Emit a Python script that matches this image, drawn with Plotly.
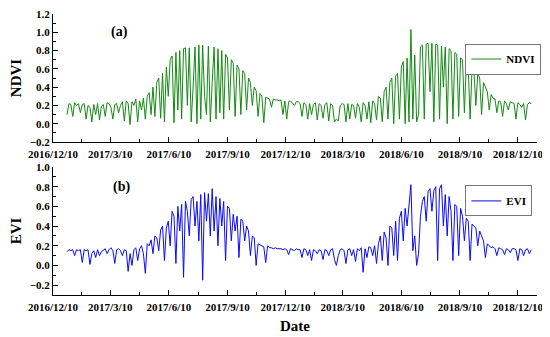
import pandas as pd
import plotly.graph_objects as go

# ---- data (3-day samples, 2017-01-01 .. 2018-12-31) ----
ndvi_2017 = [
    0.10, 0.22, 0.21, 0.08, 0.23, 0.20, 0.22, 0.12, 0.21, 0.22,          # Jan
    0.05, 0.20, 0.18, 0.02, 0.21, 0.10, 0.22, 0.04, 0.19, 0.21,          # Feb
    0.08, 0.23, 0.22, 0.18, 0.05, 0.21, 0.22, 0.12, 0.20, 0.24, 0.03,    # Mar
    0.25, 0.22, -0.01, 0.24, 0.20, 0.27, 0.02, 0.25, 0.15, 0.28,         # Apr
    0.05, 0.30, 0.34, 0.10, 0.40, 0.08, 0.45, 0.50, 0.06, 0.55,          # May
    0.02, 0.62, 0.30, 0.70, 0.74, 0.01, 0.78, 0.15, 0.80, 0.05,          # Jun
    0.82, 0.83, 0.20, 0.83, 0.02, 0.40, 0.84, 0.00, 0.86, 0.05,          # Jul
    0.86, 0.30, 0.10, 0.85, 0.02, 0.45, 0.84, 0.05, 0.82, 0.12, 0.80,    # Aug
    0.05, 0.76, 0.72, 0.15, 0.70, 0.66, 0.08, 0.64, 0.60, 0.10,          # Sep
    0.58, 0.55, 0.15, 0.50, 0.45, 0.20, 0.40, 0.36, 0.08, 0.33,          # Oct
    0.30, 0.01, 0.29, 0.28, 0.27, 0.18, 0.27, 0.26, 0.26, 0.25,          # Nov
    0.26, 0.10, 0.25, 0.05, 0.24, 0.25, 0.23, 0.20, 0.24, 0.24,          # Dec
]
ndvi_2018 = [
    0.22, 0.08, 0.23, 0.21, 0.05, 0.22, 0.10, 0.21, 0.23, 0.04,          # Jan
    0.22, 0.20, 0.06, 0.21, 0.23, 0.03, 0.22, 0.20, 0.02, 0.05,          # Feb
    0.03, 0.20, 0.22, 0.21, 0.02, 0.22, 0.05, 0.21, 0.20, 0.06, 0.22,    # Mar
    0.18, 0.02, 0.23, 0.20, 0.05, 0.24, 0.01, 0.25, 0.22, 0.04,          # Apr
    0.30, 0.28, 0.02, 0.35, 0.40, 0.05, 0.45, 0.50, 0.00, 0.52,          # May
    0.55, 0.05, 0.62, 0.68, 0.00, 0.72, 0.02, 1.03, 0.05, 0.75,          # Jun
    0.02, 0.10, 0.84, 0.86, 0.05, 0.87, 0.88, 0.35, 0.88, 0.02,          # Jul
    0.87, 0.86, 0.05, 0.85, 0.40, 0.84, 0.00, 0.82, 0.80, 0.05, 0.78,    # Aug
    0.76, 0.08, 0.72, 0.70, 0.12, 0.66, 0.62, 0.05, 0.60, 0.58,          # Sep
    0.20, 0.55, 0.50, 0.10, 0.45, 0.40, 0.35, 0.15, 0.32, 0.28,          # Oct
    0.27, 0.12, 0.25, 0.24, 0.08, 0.25, 0.22, 0.15, 0.24, 0.23,          # Nov
    0.22, 0.05, 0.23, 0.21, 0.18, 0.22, 0.04, 0.21, 0.23, 0.22,          # Dec
]
evi_2017 = [
    0.14, 0.16, 0.15, 0.16, 0.10, 0.16, 0.15, 0.16, 0.03, 0.16,          # Jan
    0.15, 0.16, 0.01, 0.12, 0.15, 0.08, 0.16, 0.10, 0.14, 0.16,          # Feb
    0.17, 0.12, 0.16, 0.18, 0.15, 0.02, 0.16, 0.17, 0.15, 0.10, 0.16,    # Mar
    0.15, -0.06, 0.12, 0.00, 0.16, 0.18, 0.05, 0.17, 0.20, 0.12,         # Apr
    -0.08, 0.22, 0.20, 0.26, 0.12, 0.30, 0.28, 0.15, 0.36, 0.40,         # May
    0.05, 0.38, 0.45, 0.20, 0.55, 0.50, 0.02, 0.60, 0.35, 0.62,          # Jun
    -0.12, 0.65, 0.55, 0.30, 0.67, 0.70, 0.40, 0.65, 0.25, 0.72,         # Jul
    -0.15, 0.74, 0.45, 0.73, 0.30, 0.78, 0.35, 0.70, 0.20, 0.68, 0.40,   # Aug
    0.65, 0.05, 0.60, 0.58, 0.25, 0.52, 0.35, 0.50, 0.08, 0.47,          # Sep
    0.45, 0.25, 0.40, 0.35, 0.10, 0.30, 0.28, 0.00, 0.22, 0.21,          # Oct
    0.20, 0.19, 0.03, 0.20, 0.18, 0.18, 0.17, 0.18, 0.17, 0.17,          # Nov
    0.17, 0.16, 0.17, 0.16, 0.11, 0.17, 0.16, 0.15, 0.17, 0.16,          # Dec
]
evi_2018 = [
    0.16, 0.08, 0.17, 0.16, 0.10, 0.16, 0.05, 0.16, 0.15, 0.12,          # Jan
    0.16, 0.15, 0.06, 0.16, 0.15, 0.10, 0.16, 0.17, 0.06, 0.00,          # Feb
    0.10, 0.16, 0.17, 0.15, 0.02, 0.16, 0.17, 0.10, 0.16, 0.04, 0.17,    # Mar
    0.15, 0.18, -0.07, 0.17, 0.08, 0.19, 0.18, 0.10, 0.20, 0.02,         # Apr
    0.22, 0.30, 0.05, 0.34, 0.28, 0.00, 0.40, 0.38, 0.10, 0.45,          # May
    0.05, 0.48, 0.55, 0.25, 0.58, 0.40, 0.60, 0.82, 0.15, 0.30,          # Jun
    0.00, 0.12, 0.50, 0.65, 0.70, 0.45, 0.75, 0.78, 0.55, 0.76,          # Jul
    0.80, 0.05, 0.78, 0.82, 0.40, 0.72, 0.30, 0.70, 0.55, 0.05, 0.62,    # Aug
    0.60, 0.10, 0.58, 0.50, 0.25, 0.48, 0.45, 0.05, 0.42, 0.40,          # Sep
    0.38, 0.20, 0.35, 0.30, 0.25, 0.08, 0.22, 0.20, 0.18, 0.19,          # Oct
    0.17, 0.10, 0.18, 0.17, 0.16, 0.11, 0.17, 0.16, 0.13, 0.17,          # Nov
    0.17, 0.16, 0.05, 0.17, 0.16, 0.10, 0.16, 0.17, 0.12, 0.16,          # Dec
]
ndvi = ndvi_2017 + ndvi_2018
evi = evi_2017 + evi_2018
start_date = "2017-01-01"

tick_dates = ["2016-12-10", "2017-03-10", "2017-06-10", "2017-09-10", "2017-12-10",
              "2018-03-10", "2018-06-10", "2018-09-10", "2018-12-10"]
tick_labels = ["2016/12/10", "2017/3/10", "2017/6/10", "2017/9/10", "2017/12/10",
               "2018/3/10", "2018/6/10", "2018/9/10", "2018/12/10"]
minor_dates = ["2017-01-24", "2017-04-25", "2017-07-26", "2017-10-25",
               "2018-01-24", "2018-04-25", "2018-07-26", "2018-10-25", "2019-01-09"]
x_range = ["2016-12-10", "2019-01-09"]
ndvi_ticks = [-0.2, 0.0, 0.2, 0.4, 0.6, 0.8, 1.0, 1.2]
evi_ticks = [-0.2, 0.0, 0.2, 0.4, 0.6, 0.8, 1.0]

dates_n = pd.date_range(start_date, periods=len(ndvi), freq="3D")
dates_e = pd.date_range(start_date, periods=len(evi), freq="3D")

FONT = "Liberation Serif"
tickfont = dict(family=FONT, size=11, color="black", weight="bold")
titlefont = dict(family=FONT, size=15, color="black", weight="bold")

fig = go.Figure()
fig.add_trace(go.Scatter(x=dates_n, y=ndvi, mode="lines", name="NDVI",
                         line=dict(color="#148a14", width=1), xaxis="x", yaxis="y",
                         legend="legend"))
fig.add_trace(go.Scatter(x=dates_e, y=evi, mode="lines", name="EVI",
                         line=dict(color="#0a0aff", width=1), xaxis="x2", yaxis="y2",
                         legend="legend2"))

xcommon = dict(range=x_range, tickmode="array", tickvals=tick_dates, ticktext=tick_labels,
               ticks="inside", ticklen=5, tickwidth=1, tickcolor="black",
               showline=True, linecolor="black", linewidth=1, showgrid=False,
               zeroline=False, tickfont=tickfont, tickangle=0, automargin=False,
               ticklabelstandoff=2, ticklabeloverflow="allow",
               minor=dict(tickmode="array", tickvals=minor_dates, ticks="inside",
                          ticklen=3, tickcolor="black", showgrid=False))
ycommon = dict(ticks="inside", ticklen=5, tickwidth=1, tickcolor="black",
               showline=True, linecolor="black", linewidth=1, showgrid=False,
               zeroline=False, tickfont=tickfont, tickformat=".1f",
               tickmode="array", automargin=False, ticklabeloverflow="allow",
               minor=dict(dtick=0.1, tick0=0, ticks="inside", ticklen=3, tickcolor="black",
                          showgrid=False))

# page body has an 8px margin, so the figure is drawn 8px smaller and offset
fig.update_layout(
    width=542, height=329,
    margin=dict(l=45, r=13, t=6, b=42),
    paper_bgcolor="white", plot_bgcolor="white",
    showlegend=True,
    xaxis=dict(domain=[0, 1], anchor="y", **xcommon),
    yaxis=dict(domain=[0.5445, 1], anchor="x", range=[-0.2, 1.2], tickvals=ndvi_ticks,
               title=dict(text="NDVI", font=titlefont, standoff=10),
               **ycommon),
    xaxis2=dict(domain=[0, 1], anchor="y2",
                title=dict(text="Date", font=titlefont, standoff=8),
                **xcommon),
    yaxis2=dict(domain=[0, 0.4555], anchor="x2", range=[-0.3, 1.0], tickvals=evi_ticks,
                title=dict(text="EVI", font=titlefont, standoff=10),
                **ycommon),
    legend=dict(x=0.852, y=0.895, xanchor="left", yanchor="top", bgcolor="white",
                bordercolor="#777777", borderwidth=1,
                font=dict(family=FONT, size=11, color="black", weight="bold"),
                itemwidth=30, tracegroupgap=0),
    legend2=dict(x=0.852, y=0.39, xanchor="left", yanchor="top", bgcolor="white",
                 bordercolor="#777777", borderwidth=1,
                 font=dict(family=FONT, size=11, color="black", weight="bold"),
                 itemwidth=30, tracegroupgap=0),
    annotations=[
        dict(text="(a)", x=0.116, y=0.97, xref="paper", yref="paper", showarrow=False,
             font=dict(family=FONT, size=14, color="black", weight="bold")),
        dict(text="(b)", x=0.12, y=0.385, xref="paper", yref="paper", showarrow=False,
             font=dict(family=FONT, size=14, color="black", weight="bold")),
    ],
)

fig.write_html("out.html")
